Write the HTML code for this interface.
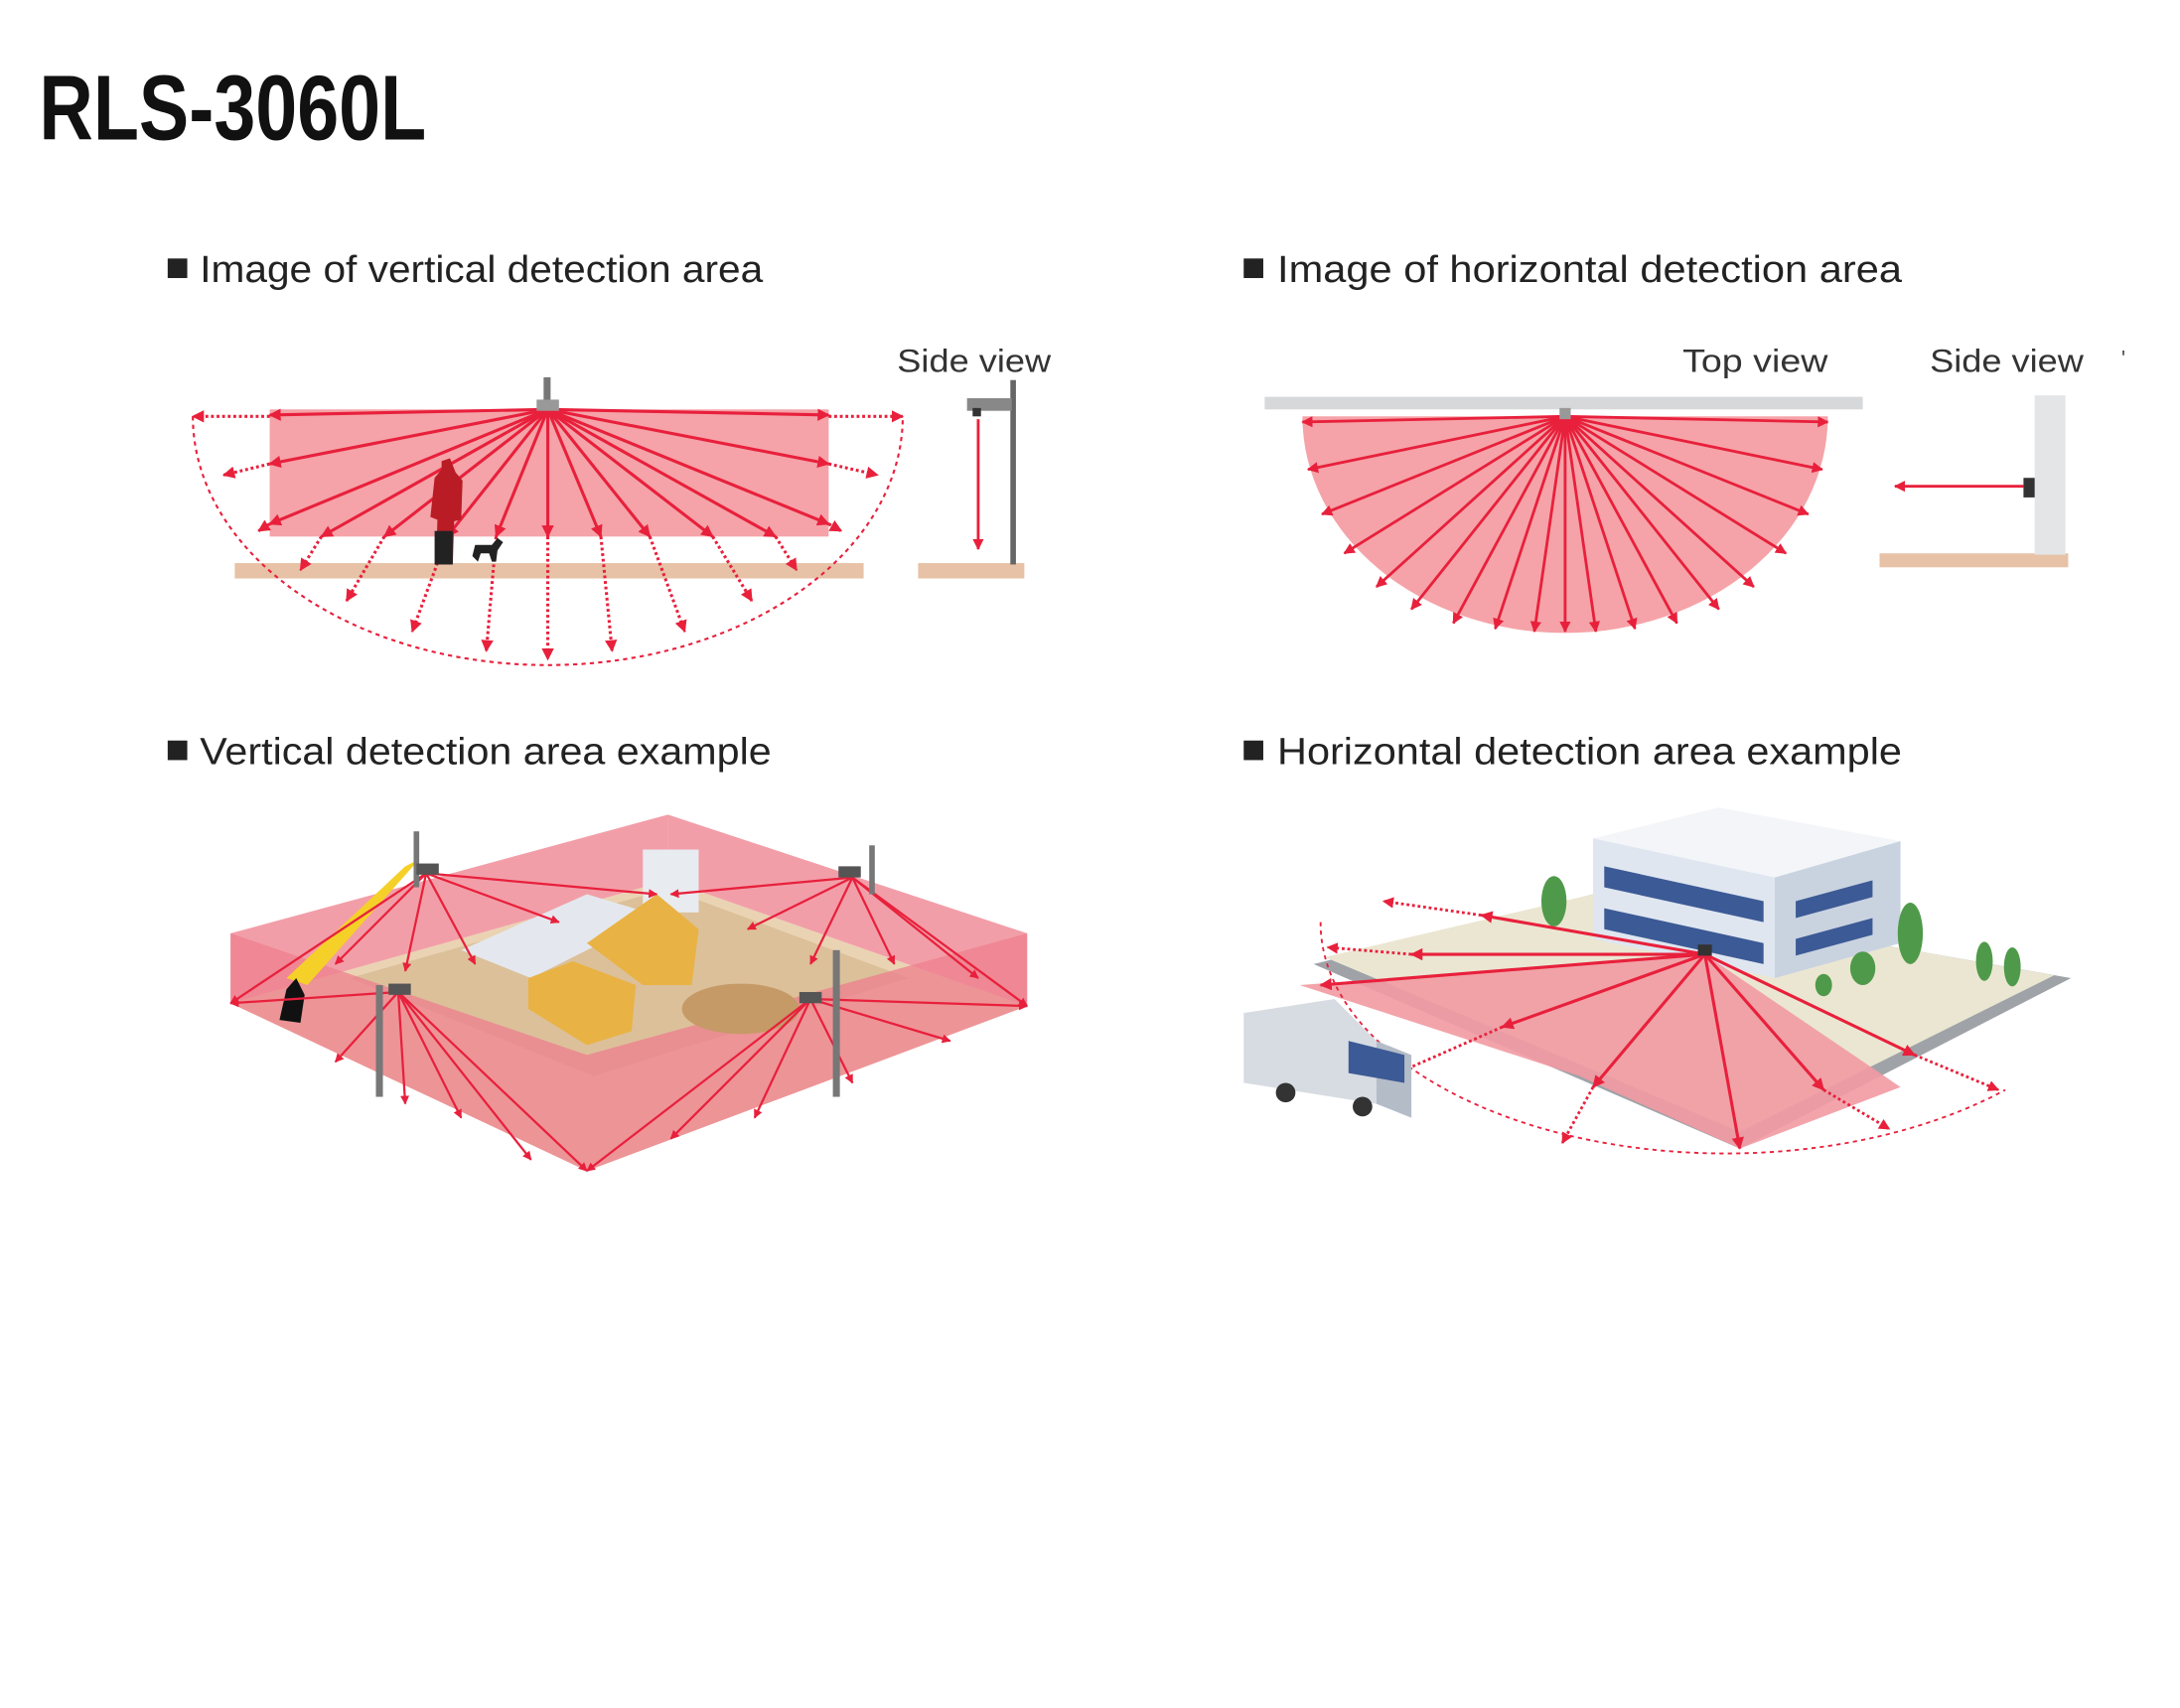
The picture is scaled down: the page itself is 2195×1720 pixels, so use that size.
<!DOCTYPE html>
<html><head><meta charset="utf-8"><style>
html,body{margin:0;padding:0;background:#fff}
svg{display:block}
text{font-family:"Liberation Sans",sans-serif}
</style></head><body>
<svg width="2195" height="1720" viewBox="0 0 1560 1222.4" xmlns="http://www.w3.org/2000/svg">
<defs>
<marker id="a" viewBox="0 0 10 10" refX="9" refY="5" markerWidth="4" markerHeight="4" orient="auto"><path d="M0,0L10,5L0,10z" fill="#e8203c"/></marker>
</defs>
<rect width="1560" height="1222.4" fill="#fff"/>
<text x="28" y="100" font-size="66" font-weight="bold" textLength="277" lengthAdjust="spacingAndGlyphs" fill="#111">RLS-3060L</text>

<g font-size="27" fill="#222">
<rect x="120" y="185" width="14" height="14" fill="#222"/><text x="143" y="202" textLength="403" lengthAdjust="spacingAndGlyphs">Image of vertical detection area</text>
<rect x="890" y="185" width="14" height="14" fill="#222"/><text x="914" y="202" textLength="447" lengthAdjust="spacingAndGlyphs">Image of horizontal detection area</text>
<rect x="120" y="530" width="14" height="14" fill="#222"/><text x="143" y="547" textLength="409" lengthAdjust="spacingAndGlyphs">Vertical detection area example</text>
<rect x="890" y="530" width="14" height="14" fill="#222"/><text x="914" y="547" textLength="447" lengthAdjust="spacingAndGlyphs">Horizontal detection area example</text>
</g>
<g font-size="23" fill="#333"><text x="642" y="266" textLength="110" lengthAdjust="spacingAndGlyphs">Side view</text><text x="1204" y="266" textLength="104" lengthAdjust="spacingAndGlyphs">Top view</text><text x="1381" y="266" textLength="110" lengthAdjust="spacingAndGlyphs">Side view</text></g>

<!-- top-left vertical -->
<rect x="168" y="403" width="450" height="11" fill="#e7c2a6"/>
<rect x="193" y="293" width="400" height="91" fill="#f5a3a8"/>
<path d="M138,298 A254,178 0 0 0 646,298" fill="none" stroke="#e8203c" stroke-width="1.5" stroke-dasharray="3,3"/>
<g stroke="#e8203c" stroke-width="2.2" marker-end="url(#a)" fill="none">
<line x1="392" y1="293" x2="193" y2="297"/><line x1="392" y1="293" x2="593" y2="297"/>
<line x1="392" y1="293" x2="193" y2="332"/><line x1="392" y1="293" x2="593" y2="332"/>
<line x1="392" y1="293" x2="193" y2="375"/><line x1="392" y1="293" x2="593" y2="375"/>
<line x1="392" y1="293" x2="230" y2="384"/><line x1="392" y1="293" x2="555" y2="384"/>
<line x1="392" y1="293" x2="275" y2="384"/><line x1="392" y1="293" x2="510" y2="384"/>
<line x1="392" y1="293" x2="320" y2="384"/><line x1="392" y1="293" x2="465" y2="384"/>
<line x1="392" y1="293" x2="355" y2="384"/><line x1="392" y1="293" x2="430" y2="384"/>
<line x1="392" y1="293" x2="392" y2="384"/>
</g>
<g stroke="#e8203c" stroke-width="2.2" stroke-dasharray="2,2" marker-end="url(#a)" fill="none">
<line x1="193" y1="298" x2="138" y2="298"/><line x1="593" y1="298" x2="646" y2="298"/>
<line x1="193" y1="332" x2="160" y2="340"/><line x1="593" y1="332" x2="628" y2="340"/>
<line x1="193" y1="375" x2="185" y2="380"/><line x1="593" y1="375" x2="602" y2="380"/>
<line x1="230" y1="384" x2="215" y2="408"/><line x1="555" y1="384" x2="570" y2="408"/>
<line x1="275" y1="384" x2="248" y2="430"/><line x1="510" y1="384" x2="538" y2="430"/>
<line x1="320" y1="384" x2="295" y2="452"/><line x1="465" y1="384" x2="490" y2="452"/>
<line x1="355" y1="384" x2="348" y2="466"/><line x1="430" y1="384" x2="438" y2="466"/>
<line x1="392" y1="384" x2="392" y2="472"/>
</g>
<rect x="389" y="270" width="5" height="22" fill="#777"/><rect x="384" y="286" width="16" height="8" fill="#999"/>
<path d="M312,404 L313,372 L308,370 L311,342 L316,336 L316,330 L322,328 L326,338 L331,344 L330,372 L325,373 L324,404 Z" fill="#b91c25"/>
<rect x="311" y="380" width="13" height="24" fill="#222"/>
<path d="M338,398 L340,390 L352,390 L356,385 L360,388 L356,394 L355,402 L352,402 L350,396 L344,396 L342,402 Z" fill="#222"/>
<!-- side view -->
<rect x="657" y="403" width="76" height="11" fill="#e7c2a6"/>
<rect x="723" y="272" width="4" height="132" fill="#666"/>
<rect x="692" y="285" width="32" height="9" fill="#888"/><rect x="696" y="292" width="6" height="6" fill="#333"/>
<line x1="700" y1="300" x2="700" y2="393" stroke="#e8203c" stroke-width="2" marker-end="url(#a)"/>

<!-- top-right horizontal -->
<rect x="905" y="284" width="428" height="9" fill="#d6d8da"/>
<path d="M932,298 A188,155 0 0 0 1308,298 Z" fill="#f5a3a8"/>
<g stroke="#e8203c" stroke-width="2" marker-end="url(#a)" fill="none">
<line x1="1120" y1="298" x2="932" y2="302"/><line x1="1120" y1="298" x2="1308" y2="302"/>
<line x1="1120" y1="298" x2="936" y2="336"/><line x1="1120" y1="298" x2="1304" y2="336"/>
<line x1="1120" y1="298" x2="946" y2="368"/><line x1="1120" y1="298" x2="1294" y2="368"/>
<line x1="1120" y1="298" x2="962" y2="396"/><line x1="1120" y1="298" x2="1278" y2="396"/>
<line x1="1120" y1="298" x2="985" y2="420"/><line x1="1120" y1="298" x2="1255" y2="420"/>
<line x1="1120" y1="298" x2="1010" y2="436"/><line x1="1120" y1="298" x2="1230" y2="436"/>
<line x1="1120" y1="298" x2="1040" y2="446"/><line x1="1120" y1="298" x2="1200" y2="446"/>
<line x1="1120" y1="298" x2="1070" y2="450"/><line x1="1120" y1="298" x2="1170" y2="450"/>
<line x1="1120" y1="298" x2="1098" y2="452"/><line x1="1120" y1="298" x2="1142" y2="452"/>
<line x1="1120" y1="298" x2="1120" y2="452"/>
</g>
<rect x="1116" y="292" width="8" height="8" fill="#999"/>
<rect x="1345" y="396" width="135" height="10" fill="#e7c2a6"/>
<rect x="1456" y="283" width="22" height="114" fill="#e3e5e7"/>
<rect x="1448" y="342" width="8" height="14" fill="#333"/>
<line x1="1448" y1="348" x2="1356" y2="348" stroke="#e8203c" stroke-width="2" marker-end="url(#a)"/>
<text x="1518" y="262" font-size="16" fill="#555">'</text>

<!-- bottom-left construction -->
<polygon points="165,718 478,630 735,720 420,838" fill="#ead3b3"/>
<polygon points="250,700 478,636 650,700 425,770" fill="#dcc09a"/>
<polygon points="165,668 478,583 478,630 165,718" fill="#f08d99" opacity="0.85"/>
<polygon points="478,583 735,668 735,720 478,630" fill="#f08d99" opacity="0.85"/>
<polygon points="165,668 420,755 420,838 165,718" fill="#ee7f8e" opacity="0.75"/>
<polygon points="735,668 420,755 420,838 735,720" fill="#ee7f8e" opacity="0.75"/>
<polygon points="330,680 420,640 470,655 380,700" fill="#e4e8ee"/>
<rect x="460" y="608" width="40" height="45" fill="#e8ebef"/>
<polygon points="378,700 410,688 455,705 452,738 420,748 378,722" fill="#e9b244"/>
<polygon points="420,675 470,640 500,665 495,705 460,705" fill="#e9b244"/>
<ellipse cx="530" cy="722" rx="42" ry="18" fill="#c59a66"/>
<polygon points="290,620 300,615 220,705 205,700" fill="#f5d028"/>
<path d="M200,730 L205,708 L212,700 L218,712 L215,732" fill="#111"/>
<g stroke="#e8203c" stroke-width="1.6" fill="none" marker-end="url(#a)">
<line x1="305" y1="625" x2="165" y2="718"/><line x1="305" y1="625" x2="240" y2="690"/><line x1="305" y1="625" x2="290" y2="695"/><line x1="305" y1="625" x2="340" y2="690"/><line x1="305" y1="625" x2="400" y2="660"/><line x1="305" y1="625" x2="470" y2="640"/>
<line x1="610" y1="628" x2="480" y2="640"/><line x1="610" y1="628" x2="535" y2="665"/><line x1="610" y1="628" x2="580" y2="690"/><line x1="610" y1="628" x2="640" y2="690"/><line x1="610" y1="628" x2="700" y2="700"/><line x1="610" y1="628" x2="735" y2="720"/>
<line x1="285" y1="710" x2="165" y2="718"/><line x1="285" y1="710" x2="240" y2="760"/><line x1="285" y1="710" x2="290" y2="790"/><line x1="285" y1="710" x2="330" y2="800"/><line x1="285" y1="710" x2="380" y2="830"/><line x1="285" y1="710" x2="420" y2="838"/>
<line x1="580" y1="715" x2="420" y2="838"/><line x1="580" y1="715" x2="480" y2="815"/><line x1="580" y1="715" x2="540" y2="800"/><line x1="580" y1="715" x2="610" y2="775"/><line x1="580" y1="715" x2="680" y2="745"/><line x1="580" y1="715" x2="735" y2="720"/>
</g>
<g fill="#777"><rect x="296" y="595" width="4" height="40"/><rect x="622" y="605" width="4" height="35"/><rect x="269" y="705" width="5" height="80"/><rect x="596" y="680" width="5" height="105"/></g>
<g fill="#555"><rect x="298" y="618" width="16" height="8"/><rect x="600" y="620" width="16" height="8"/><rect x="278" y="704" width="16" height="8"/><rect x="572" y="710" width="16" height="8"/></g>

<!-- bottom-right building -->
<polygon points="940,690 1140,640 1482,700 1245,822" fill="#9fa3a8"/>
<polygon points="948,685 1140,640 1470,698 1245,810" fill="#ebe6d2"/>
<polygon points="1140,600 1230,578 1360,602 1270,628" fill="#f3f5f8"/>
<polygon points="1140,600 1270,628 1270,700 1140,672" fill="#dfe6f0"/>
<polygon points="1270,628 1360,602 1360,675 1270,700" fill="#c9d3e0"/>
<g fill="#3c5a95"><polygon points="1148,620 1262,645 1262,660 1148,635"/><polygon points="1148,650 1262,675 1262,690 1148,665"/><polygon points="1285,645 1340,630 1340,642 1285,657"/><polygon points="1285,672 1340,657 1340,669 1285,684"/></g>
<g fill="#4f9a4a"><ellipse cx="1112" cy="645" rx="9" ry="18"/><ellipse cx="1367" cy="668" rx="9" ry="22"/><ellipse cx="1333" cy="693" rx="9" ry="12"/><ellipse cx="1420" cy="688" rx="6" ry="14"/><ellipse cx="1440" cy="692" rx="6" ry="14"/><ellipse cx="1305" cy="705" rx="6" ry="8"/></g>
<polygon points="1220,683 930,705 1130,770 1245,822 1360,778" fill="#f29aa2" opacity="0.9"/>
<path d="M945,660 A290,165 0 0 0 1435,780" fill="none" stroke="#e8203c" stroke-width="1.3" stroke-dasharray="3,3"/>
<g stroke="#e8203c" stroke-width="2.2" fill="none" marker-end="url(#a)">
<line x1="1220" y1="683" x2="1060" y2="655"/><line x1="1220" y1="683" x2="1010" y2="683"/><line x1="1220" y1="683" x2="945" y2="705"/><line x1="1220" y1="683" x2="1075" y2="735"/><line x1="1220" y1="683" x2="1140" y2="778"/><line x1="1220" y1="683" x2="1245" y2="822"/><line x1="1220" y1="683" x2="1305" y2="780"/><line x1="1220" y1="683" x2="1370" y2="755"/>
</g>
<g stroke="#e8203c" stroke-width="2" stroke-dasharray="2,2" fill="none" marker-end="url(#a)">
<line x1="1060" y1="655" x2="990" y2="645"/><line x1="1010" y1="683" x2="950" y2="678"/><line x1="1075" y1="735" x2="1000" y2="768"/><line x1="1140" y1="778" x2="1118" y2="818"/><line x1="1305" y1="780" x2="1352" y2="808"/><line x1="1370" y1="755" x2="1430" y2="780"/>
</g>
<polygon points="890,725 955,715 985,745 985,790 890,775" fill="#d7dce2"/>
<polygon points="985,745 1010,755 1010,800 985,790" fill="#b4bcc8"/>
<polygon points="965,745 1005,755 1005,775 965,768" fill="#3c5a95"/>
<circle cx="920" cy="782" r="7" fill="#333"/><circle cx="975" cy="792" r="7" fill="#333"/>
<rect x="1215" y="676" width="10" height="8" fill="#333"/>
</svg>
</body></html>
